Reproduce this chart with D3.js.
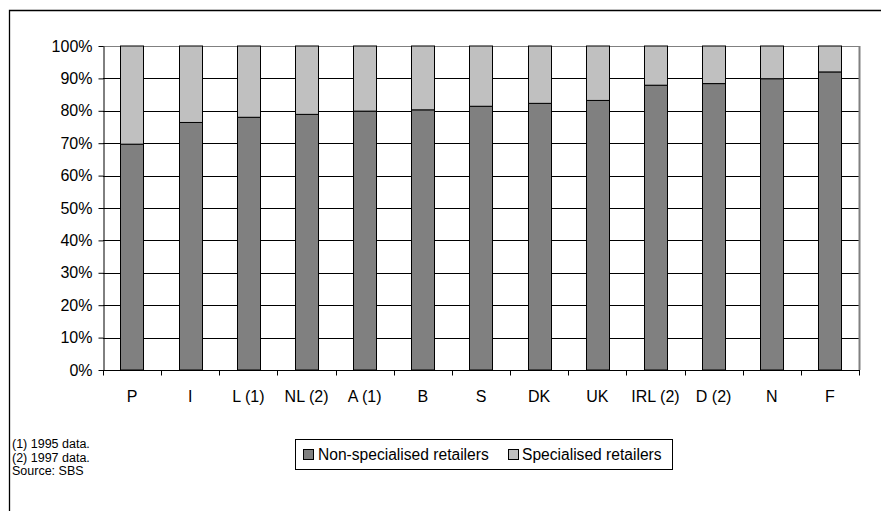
<!DOCTYPE html>
<html>
<head>
<meta charset="utf-8">
<script src="https://cdn.jsdelivr.net/npm/d3@7"></script>
<style>
  html, body { margin: 0; padding: 0; background: #fff; }
  svg { display: block; font-family: "Liberation Sans", Arial, sans-serif; }
</style>
</head>
<body>
<svg id="chart" width="881" height="511"></svg>
<script>
// Share of retail trade by type of retailer, per country
const countries = ["P", "I", "L (1)", "NL (2)", "A (1)", "B", "S", "DK", "UK", "IRL (2)", "D (2)", "N", "F"];
const nonSpecialised = [69.7, 76.4, 78.0, 78.9, 79.9, 80.3, 81.4, 82.3, 83.2, 87.9, 88.4, 89.9, 92.0];
const specialised = nonSpecialised.map(v => 100 - v);
const seriesNames = ["Non-specialised retailers", "Specialised retailers"];
const seriesColors = ["#808080", "#c0c0c0"];
const yTicks = [0, 10, 20, 30, 40, 50, 60, 70, 80, 90, 100];
const footnotes = ["(1) 1995 data.", "(2) 1997 data.", "Source: SBS"];

const svg = d3.select("#chart");

// Outer frame (top and left edges)
svg.append("path")
  .attr("d", "M9.5,511 V10.5 H881")
  .attr("fill", "none")
  .attr("stroke", "#000")
  .attr("stroke-width", 1.3);

const plot = { left: 103, right: 859, top: 46, bottom: 370 };

const x = d3.scaleBand()
  .domain(countries)
  .range([plot.left, plot.right])
  .paddingInner(0.6)
  .paddingOuter(0.3);

const xGroup = d3.scaleBand()
  .domain(countries)
  .range([plot.left, plot.right]);

const y = d3.scaleLinear()
  .domain([0, 100])
  .range([plot.bottom, plot.top]);

// Gridlines
svg.append("g")
  .selectAll("line")
  .data(yTicks.filter(t => t > 0))
  .join("line")
  .attr("x1", plot.left)
  .attr("x2", plot.right)
  .attr("y1", d => Math.round(y(d)) + 0.5)
  .attr("y2", d => Math.round(y(d)) + 0.5)
  .attr("stroke", d => d === 100 ? "#808080" : "#000")
  .attr("stroke-width", 1);

// Right plot border
svg.append("line")
  .attr("x1", plot.right + 0.5).attr("x2", plot.right + 0.5)
  .attr("y1", plot.top).attr("y2", plot.bottom)
  .attr("stroke", "#808080").attr("stroke-width", 2);

// Stacked bars
const stackData = countries.map((c, i) => ({ country: c, non: nonSpecialised[i], spec: specialised[i] }));
const stacked = d3.stack().keys(["non", "spec"])(stackData);

svg.append("g")
  .selectAll("g")
  .data(stacked)
  .join("g")
  .attr("fill", (d, i) => seriesColors[i])
  .selectAll("rect")
  .data(d => d)
  .join("rect")
  .attr("x", d => Math.round(x(d.data.country)) + 0.5)
  .attr("width", Math.round(x.bandwidth()))
  .attr("y", d => y(d[1]))
  .attr("height", d => y(d[0]) - y(d[1]))
  .attr("stroke", "#000")
  .attr("stroke-width", 1);

// Y axis
const yAxis = svg.append("g")
  .attr("transform", `translate(${plot.left + 0.5},0)`)
  .call(d3.axisLeft(y).tickValues(yTicks).tickFormat(d => d + "%").tickSize(5).tickSizeOuter(0));
yAxis.select(".domain").attr("stroke", "#000");
yAxis.selectAll(".tick line").attr("stroke", "#000");
yAxis.selectAll(".tick text")
  .attr("font-size", 16)
  .attr("font-family", "Liberation Sans, Arial, sans-serif")
  .attr("fill", "#000")
  .attr("x", -11);

// X axis: ticks at category boundaries
const xAxisG = svg.append("g")
  .attr("transform", `translate(0,${plot.bottom + 0.5})`);
xAxisG.append("line")
  .attr("x1", plot.left).attr("x2", plot.right + 1)
  .attr("stroke", "#000");
const boundaries = countries.map(c => xGroup(c)).concat([plot.right]);
xAxisG.selectAll("line.tick")
  .data(boundaries)
  .join("line")
  .attr("class", "tick")
  .attr("x1", d => Math.round(d) + 0.5)
  .attr("x2", d => Math.round(d) + 0.5)
  .attr("y1", 0).attr("y2", 5)
  .attr("stroke", "#000");
xAxisG.selectAll("text")
  .data(countries)
  .join("text")
  .attr("x", d => xGroup(d) + xGroup.bandwidth() / 2)
  .attr("y", 31.5)
  .attr("text-anchor", "middle")
  .attr("font-size", 16)
  .attr("fill", "#000")
  .text(d => d);

// Legend
const legend = svg.append("g");
legend.append("rect")
  .attr("x", 295.5).attr("y", 439.5)
  .attr("width", 377).attr("height", 30)
  .attr("fill", "#fff").attr("stroke", "#000").attr("stroke-width", 1);
const legendItems = [{ x: 303, tx: 318 }, { x: 508, tx: 522 }];
seriesNames.forEach((name, i) => {
  legend.append("rect")
    .attr("x", legendItems[i].x + 0.5).attr("y", 449.5)
    .attr("width", 10).attr("height", 10)
    .attr("fill", seriesColors[i]).attr("stroke", "#000");
  legend.append("text")
    .attr("x", legendItems[i].tx).attr("y", 460)
    .attr("font-size", 15.6).attr("fill", "#000")
    .text(name);
});

// Footnotes
svg.append("g")
  .selectAll("text")
  .data(footnotes)
  .join("text")
  .attr("x", 12)
  .attr("y", (d, i) => 448 + i * 13.5)
  .attr("font-size", 12.5)
  .attr("fill", "#000")
  .text(d => d);
</script>
</body>
</html>
